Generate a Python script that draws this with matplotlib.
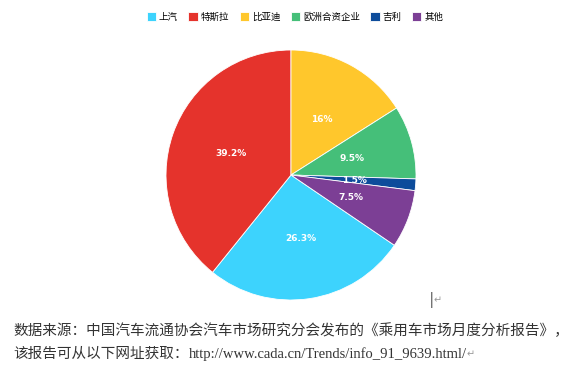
import matplotlib as mpl

mpl.use("Agg")
import matplotlib.pyplot as plt

plt.rcParams["font.family"] = ["Noto Sans CJK SC", "DejaVu Sans"]

brands = ["上汽", "特斯拉", "比亚迪", "欧洲合资企业", "吉利", "其他"]
shares = [26.3, 39.2, 16, 9.5, 1.5, 7.5]
colors = ["#3DD3FD", "#E5332C", "#FFC72C", "#45BF79", "#0D4C9B", "#7C3F95"]

source_line1 = "数据来源：中国汽车流通协会汽车市场研究分会发布的《乘用车市场月度分析报告》，"
source_line2 = "该报告可从以下网址获取："
source_url = "http://www.cada.cn/Trends/info_91_9639.html/"

W, H = 569, 373
fig = plt.figure(figsize=(W / 100, H / 100), dpi=100)
fig.patch.set_facecolor("white")

cx, cy, r = 291, 175, 125
ax = fig.add_axes([(cx - r) / W, (H - cy - r) / H, 2 * r / W, 2 * r / H])

# first slice (上汽) begins 34.5% clockwise from the top
start = 90 - 360 * sum(shares[2:]) / 100
wedges, texts = ax.pie(
    shares,
    colors=colors,
    labels=[f"{v:g}%" for v in shares],
    labeldistance=0.51,
    startangle=start,
    counterclock=False,
    wedgeprops={"edgecolor": "white", "linewidth": 0.6},
    textprops={"color": "white", "fontsize": 6.5, "fontweight": "bold",
               "family": ["DejaVu Sans"]},
)
for t in texts:
    t.set_horizontalalignment("center")
    t.set_verticalalignment("center")
ax.set_xlim(-1, 1)
ax.set_ylim(-1, 1)
ax.set_aspect("equal")

fig.legend(
    wedges,
    brands,
    loc="center",
    bbox_to_anchor=(295 / W, 1 - 17 / H),
    ncol=6,
    frameon=False,
    fontsize=6.8,
    handlelength=1.0,
    handleheight=1.0,
    handletextpad=0.3,
    columnspacing=1.1,
    borderaxespad=0,
)

# word-processor cursor and paragraph mark
fig.text(430 / W, 1 - 300 / H, "|", fontsize=10, color="#222222", va="center")
fig.text(434 / W, 1 - 300 / H, "↵", fontsize=7, color="#999999", va="center",
         family=["DejaVu Sans"])

fig.text(13 / W, 1 - 331 / H, source_line1, fontsize=10.5, color="#333333",
         va="center")
t2 = fig.text(13 / W, 1 - 354 / H, source_line2, fontsize=10.5, color="#333333",
              va="center")
url = fig.add_artist(
    plt.Annotation(source_url, xy=(1.0, 0.5), xycoords=t2, va="center",
                   ha="left", fontsize=10.5, color="#333333",
                   family=["Liberation Serif"])
)
fig.add_artist(
    plt.Annotation("↵", xy=(1.0, 0.5), xycoords=url, va="center", ha="left",
                   fontsize=7, color="#999999", family=["DejaVu Sans"])
)

fig.savefig("out.png", dpi=100, facecolor="white")
